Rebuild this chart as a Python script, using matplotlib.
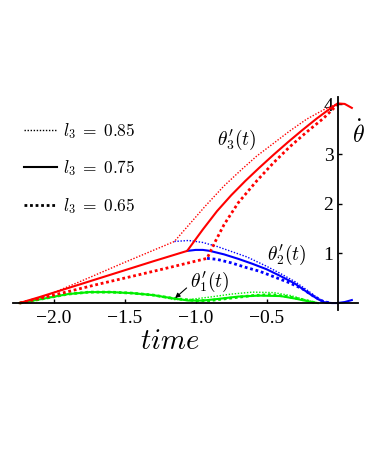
import matplotlib
matplotlib.use('Agg')
import matplotlib.pyplot as plt
from matplotlib.lines import Line2D

plt.rcParams['mathtext.fontset'] = 'cm'

# theta_3' (red)
t3_85 = [-2.24, -2.05, -1.8, -1.5, -1.3, -1.15, -1.04, -0.93, -0.8, -0.68, -0.57, -0.45, -0.34, -0.22, -0.1, 0.0]
y3_85 = [0.0, 0.15, 0.45, 0.82, 1.06, 1.24, 1.60, 1.96, 2.36, 2.68, 2.96, 3.22, 3.46, 3.70, 3.89, 4.02]
t3_75 = [-2.24, -2.1, -1.9, -1.6, -1.3, -1.06, -0.95, -0.85, -0.75, -0.65, -0.55, -0.45, -0.35, -0.25, -0.15, -0.07, 0.0, 0.05, 0.1]
y3_75 = [0.0, 0.12, 0.30, 0.57, 0.84, 1.05, 1.48, 1.85, 2.17, 2.46, 2.73, 2.99, 3.24, 3.48, 3.71, 3.88, 4.02, 4.01, 3.93]
t3_65 = [-2.24, -2.0, -1.7, -1.4, -1.15, -0.92, -0.86, -0.8, -0.7, -0.57, -0.45, -0.34, -0.22, -0.1, 0.0]
y3_65 = [0.0, 0.16, 0.37, 0.57, 0.74, 0.90, 1.25, 1.58, 2.02, 2.46, 2.83, 3.14, 3.44, 3.72, 4.0]

# theta_2' (blue)
t2_85 = [-1.15, -1.05, -0.95, -0.85, -0.75, -0.64, -0.5, -0.4, -0.3, -0.2, -0.14, -0.09, -0.04]
y2_85 = [1.24, 1.26, 1.22, 1.14, 1.04, 0.93, 0.74, 0.59, 0.43, 0.23, 0.10, 0.02, 0.0]
t2_75 = [-1.06, -1.0, -0.95, -0.9, -0.8, -0.7, -0.6, -0.5, -0.4, -0.3, -0.2, -0.14, -0.09, -0.04, 0.0, 0.05, 0.1]
y2_75 = [1.05, 1.07, 1.07, 1.05, 0.98, 0.89, 0.79, 0.68, 0.54, 0.39, 0.19, 0.08, 0.01, 0.0, 0.0, 0.02, 0.06]
t2_65 = [-0.92, -0.85, -0.75, -0.65, -0.55, -0.45, -0.35, -0.25, -0.17, -0.1, -0.05]
y2_65 = [0.90, 0.88, 0.81, 0.72, 0.64, 0.53, 0.42, 0.29, 0.14, 0.03, 0.0]

# theta_1' (green)
t1_85 = [-2.24, -2.05, -1.9, -1.75, -1.6, -1.45, -1.3, -1.15, -1.05, -0.9, -0.75, -0.6, -0.45, -0.33, -0.22, -0.14]
y1_85 = [0.0, 0.10, 0.18, 0.22, 0.22, 0.20, 0.16, 0.07, 0.07, 0.12, 0.18, 0.22, 0.21, 0.15, 0.06, 0.0]
t1_75 = [-2.24, -2.05, -1.9, -1.75, -1.6, -1.45, -1.3, -1.15, -1.05, -0.95, -0.85, -0.7, -0.55, -0.4, -0.3, -0.2, -0.14]
y1_75 = [0.0, 0.10, 0.18, 0.22, 0.22, 0.20, 0.16, 0.09, 0.05, 0.05, 0.08, 0.13, 0.15, 0.14, 0.09, 0.03, 0.0]
t1_65 = [-2.24, -2.05, -1.9, -1.75, -1.6, -1.45, -1.3, -1.15, -1.0, -0.9, -0.75, -0.6, -0.47, -0.35, -0.25, -0.15]
y1_65 = [0.0, 0.10, 0.18, 0.22, 0.22, 0.20, 0.16, 0.09, 0.05, 0.05, 0.10, 0.15, 0.17, 0.13, 0.07, 0.0]

xticks = [-2.0, -1.5, -1.0, -0.5]
xticklabels = ['\u22122.0', '\u22121.5', '\u22121.0', '\u22120.5']
yticks = [1, 2, 3, 4]
legend_labels = [r'$l_3\;=\;0.85$', r'$l_3\;=\;0.75$', r'$l_3\;=\;0.65$']

styles = {
    '85': dict(lw=1.0, ls=(0, (1, 1.2))),
    '75': dict(lw=1.5, ls='-'),
    '65': dict(lw=2.0, ls=(0, (1, 1))),
}

fig = plt.figure(figsize=(3.82, 4.49), dpi=100)
ax = fig.add_axes([0.034, 0.3096, 0.903, 0.4744])

green = '#00ee00'
blue = '#0000ff'
red = '#ff0000'

ax.plot(t1_85, y1_85, color=green, **styles['85'])
ax.plot(t1_75, y1_75, color=green, **styles['75'])
ax.plot(t1_65, y1_65, color=green, **styles['65'])
ax.plot(t2_85, y2_85, color=blue, **styles['85'])
ax.plot(t2_75, y2_75, color=blue, **styles['75'])
ax.plot(t2_65, y2_65, color=blue, **styles['65'])
ax.plot(t3_85, y3_85, color=red, **styles['85'])
ax.plot(t3_75, y3_75, color=red, **styles['75'])
ax.plot(t3_65, y3_65, color=red, **styles['65'])

ax.set_xlim(-2.287, 0.143)
ax.set_ylim(-0.14, 4.15)

for s in ['top', 'right']:
    ax.spines[s].set_visible(False)
ax.spines['left'].set_position(('data', 0))
ax.spines['bottom'].set_position(('data', 0))
ax.spines['left'].set_linewidth(1.3)
ax.spines['bottom'].set_linewidth(1.3)
ax.set_facecolor('none')

ax.set_xticks(xticks)
ax.set_xticklabels(xticklabels)
ax.set_yticks(yticks)
ax.tick_params(direction='in', length=3, width=1, labelsize=14)
ax.tick_params(axis='x', pad=5)
ax.tick_params(axis='y', pad=3)
for lab in ax.get_xticklabels() + ax.get_yticklabels():
    lab.set_fontfamily('Liberation Serif')

ax.text(0.145, 3.4, r'$\dot{\theta}$', fontsize=17, ha='center', va='center')
ax.text(-1.18, -0.92, r'$time$', fontsize=20.5, ha='center', va='baseline')

ax.text(-0.708, 3.29, r"$\theta_3^{\prime}(t)$", fontsize=14, ha='center', va='center')
ax.text(-0.357, 0.97, r"$\theta_2^{\prime}(t)$", fontsize=14, ha='center', va='center')
ax.annotate(r"$\theta_1^{\prime}(t)$", xy=(-1.145, 0.10), xytext=(-0.898, 0.42),
            fontsize=14, ha='center', va='center',
            arrowprops=dict(arrowstyle='-|>', color='black', lw=0.8,
                            mutation_scale=7, shrinkA=1, shrinkB=0,
                            relpos=(0.0, 0.4)))

handles = [Line2D([], [], color='black', **styles[k]) for k in ['85', '75', '65']]
fig.legend(handles, legend_labels, loc='upper left', bbox_to_anchor=(0.045, 0.746),
           frameon=False, fontsize=12.5, handlelength=1.9, handletextpad=0.35,
           labelspacing=1.0, borderaxespad=0)

fig.savefig('out.png', dpi=100)
